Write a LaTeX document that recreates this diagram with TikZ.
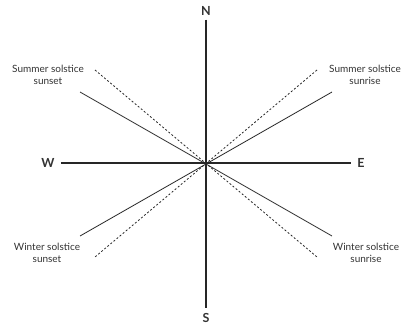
\documentclass[tikz,border=0pt]{standalone}
\usepackage{fontspec}
\setmainfont{Lato}
\begin{document}
\begin{tikzpicture}[x=1pt,y=-1pt,
  axis/.style={line width=2.6pt,draw=black!85},
  ray/.style={line width=0.8pt,draw=black!85},
  dray/.style={line width=0.8pt,draw=black!85,dash pattern=on 2pt off 2pt},
  dir/.style={font=\fontsize{12.5}{12.5}\selectfont\bfseries,text=black!80,inner sep=0pt},
  lab/.style={font=\fontsize{10}{12.5}\selectfont,text=black!80,align=center,inner sep=0pt}]
\useasboundingbox (0,0) rectangle (406,326);
\coordinate (C) at (206,163);
\node[dir] (N) at (206,11) {N};
\node[dir] (S) at (206,318) {S};
\node[dir] (W) at (48,163) {W};
\node[dir] (E) at (361,163) {E};
\draw[axis] ([yshift=-4pt]N.south) -- ([yshift=5pt]S.north);
\draw[axis] ([xshift=6pt]W.east) -- ([xshift=-6pt]E.west);
\coordinate (ul) at (80,92);
\coordinate (ur) at (332,92);
\coordinate (ll) at (80,236);
\coordinate (lr) at (332,236);
\coordinate (dul) at (95,70);
\coordinate (dur) at (317,70);
\coordinate (dll) at (95,257);
\coordinate (dlr) at (317,257);
\draw[ray] (ul) -- (lr);
\draw[ray] (ur) -- (ll);
\draw[dray] (dul) -- (dlr);
\draw[dray] (dur) -- (dll);
\node[lab] (sss) at (48,75) {Summer solstice\\sunset};
\node[lab] (ssr) at (365,75) {Summer solstice\\sunrise};
\node[lab] (wss) at (47,253) {Winter solstice\\sunset};
\node[lab] (wsr) at (366,253) {Winter solstice\\sunrise};
\end{tikzpicture}
\end{document}
